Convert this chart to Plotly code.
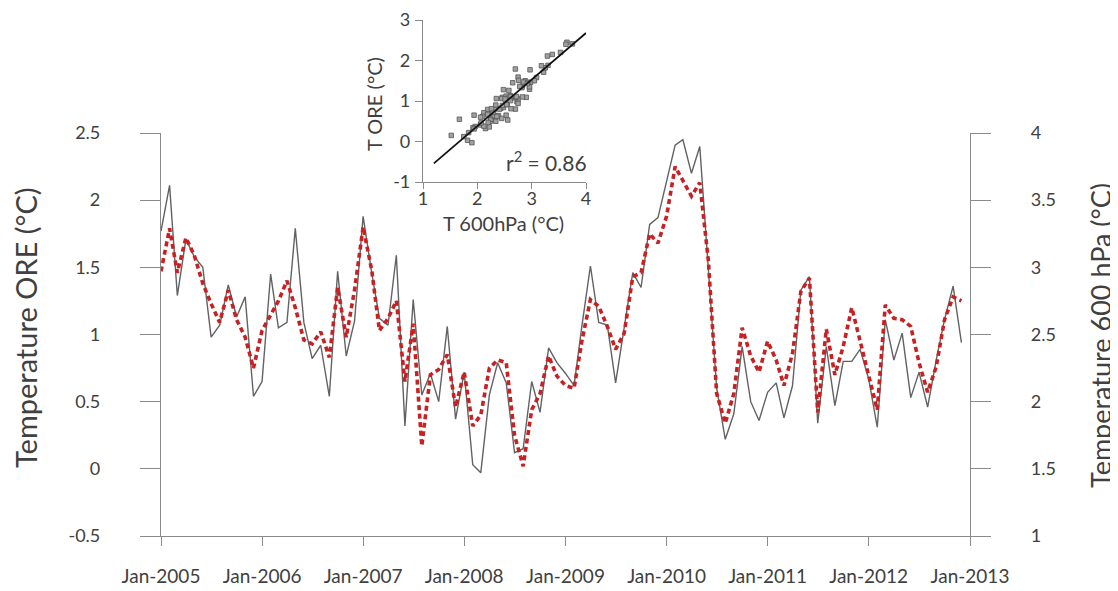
import pandas as pd
import plotly.graph_objects as go

# ---------------- data ----------------
months = pd.date_range("2005-01-01", "2012-12-01", freq="MS")

t_ore = [1.77, 2.11, 1.29, 1.71, 1.58, 1.50, 0.98, 1.07, 1.37, 1.13, 1.28, 0.54,
         0.65, 1.45, 1.05, 1.09, 1.79, 1.09, 0.82, 0.92, 0.54, 1.47, 0.84, 1.10,
         1.88, 1.46, 1.12, 1.07, 1.59, 0.32, 1.26, 0.55, 0.71, 0.50, 1.06, 0.37,
         0.72, 0.03, -0.03, 0.55, 0.79, 0.64, 0.12, 0.15, 0.65, 0.42, 0.90, 0.79,
         0.71, 0.62, 1.06, 1.51, 1.09, 1.07, 0.64, 1.05, 1.46, 1.35, 1.82, 1.87,
         2.15, 2.41, 2.45, 2.20, 2.40, 1.50, 0.60, 0.22, 0.41, 0.91, 0.50, 0.36,
         0.57, 0.64, 0.38, 0.62, 1.33, 1.43, 0.34, 0.91, 0.47, 0.80, 0.80, 0.89,
         0.67, 0.31, 1.11, 0.81, 1.01, 0.53, 0.72, 0.46, 0.81, 1.11, 1.36, 0.94]

t_600 = [2.97, 3.29, 2.96, 3.22, 3.09, 2.88, 2.73, 2.59, 2.83, 2.61, 2.48, 2.25,
         2.53, 2.65, 2.75, 2.90, 2.70, 2.46, 2.43, 2.52, 2.33, 2.85, 2.48, 2.83,
         3.30, 2.98, 2.53, 2.62, 2.75, 2.15, 2.58, 1.67, 2.20, 2.24, 2.35, 1.96,
         2.22, 1.82, 1.90, 2.25, 2.31, 2.29, 1.75, 1.52, 1.94, 2.06, 2.34, 2.19,
         2.12, 2.10, 2.45, 2.76, 2.71, 2.56, 2.39, 2.51, 2.93, 2.96, 3.25, 3.18,
         3.38, 3.75, 3.65, 3.53, 3.63, 3.05, 2.06, 1.84, 2.06, 2.55, 2.34, 2.22,
         2.45, 2.31, 2.12, 2.36, 2.82, 2.92, 1.92, 2.54, 2.20, 2.41, 2.70, 2.46,
         2.19, 1.94, 2.72, 2.62, 2.61, 2.56, 2.29, 2.07, 2.26, 2.61, 2.78, 2.75]

year_ticks = pd.date_range("2005-01-01", "2013-01-01", freq="YS")
left_ticks = [-0.5, 0, 0.5, 1, 1.5, 2, 2.5]
left_labels = ["-0.5", "0", "0.5", "1", "1.5", "2", "2.5"]
right_ticks = [1, 1.5, 2, 2.5, 3, 3.5, 4]
right_labels = ["1", "1.5", "2", "2.5", "3", "3.5", "4"]

inset_x_ticks = [1, 2, 3, 4]
inset_y_ticks = [-1, 0, 1, 2, 3]
inset_y_labels = ["-1", "0", "1", "2", "3"]
fit_x = [1.2, 4.0]
fit_slope = 1.15
fit_intercept = -1.92
r2_text = "r<sup>2</sup> = 0.86"

# ---------------- style ----------------
FONT = "Lato, 'Open Sans', sans-serif"
AX = "#8a8a8a"
TXT = "#404040"

fig = go.Figure()

fig.add_trace(go.Scatter(
    x=months, y=t_ore, mode="lines", name="T ORE",
    line=dict(color="#626262", width=1.4), xaxis="x", yaxis="y"))
fig.add_trace(go.Scatter(
    x=months, y=t_600, mode="lines", name="T 600 hPa",
    line=dict(color="#c62224", width=3.6, dash="5px,3.5px"), xaxis="x", yaxis="y3"))

# inset scatter
fig.add_trace(go.Scatter(
    x=t_600, y=t_ore, mode="markers",
    marker=dict(symbol="square", size=4.5, color="#a0a0a0",
                line=dict(color="#555555", width=0.8)),
    xaxis="x2", yaxis="y2"))
fig.add_trace(go.Scatter(
    x=fit_x, y=[fit_slope * v + fit_intercept for v in fit_x], mode="lines",
    line=dict(color="#111111", width=1.8), xaxis="x2", yaxis="y2"))

# page body has an 8px margin: size the figure so it ends at the window edge
OFF = 8
W, H = 1118 - OFF, 591 - OFF
PL, PR, PT, PB = 161, 970, 15, 536          # paper box in window pixels
L, R, T, B = PL - OFF, (W + OFF) - PR, PT - OFF, (H + OFF) - PB
pw, ph = PR - PL, PB - PT

def px_x(p):
    return (p - PL) / pw

def px_y(p):
    return (PB - p) / ph

main_top = px_y(133)

common = dict(showgrid=False, zeroline=False, showline=True, linecolor=AX,
              linewidth=1.2, ticks="outside", tickcolor=AX, tickwidth=1.2,
              automargin=False, ticklabeloverflow="allow")

fig.update_layout(
    width=W, height=H, autosize=False,
    margin=dict(l=L, r=R, t=T, b=B, pad=0),
    paper_bgcolor="white", plot_bgcolor="rgba(0,0,0,0)",
    showlegend=False,
    font=dict(family=FONT, color=TXT, size=15),
    xaxis=dict(
        domain=[0, 1], anchor="y", type="date",
        range=[year_ticks[0], year_ticks[-1]],
        tickvals=list(year_ticks), tickformat="%b-%Y",
        ticklen=9, tickfont=dict(size=19, color=TXT), ticklabelstandoff=14,
        **common),
    yaxis=dict(
        domain=[0, main_top], anchor="x",
        range=[-0.5, 2.5], tickvals=left_ticks, ticktext=left_labels,
        ticklen=20, tickfont=dict(size=18, color=TXT), ticklabelstandoff=36,
        **common),
    yaxis3=dict(
        domain=[0, main_top], anchor="x", overlaying="y", side="right",
        range=[1, 4], tickvals=right_ticks, ticktext=right_labels,
        ticklen=20, tickfont=dict(size=18, color=TXT), ticklabelstandoff=36,
        **common),
    xaxis2=dict(
        domain=[px_x(423), px_x(586)], anchor="y2",
        range=[1, 4], tickvals=inset_x_ticks,
        ticklen=6, tickfont=dict(size=18, color=TXT), ticklabelstandoff=-6,
        **common),
    yaxis2=dict(
        domain=[px_y(182), px_y(20)], anchor="x2",
        range=[-1, 3], tickvals=inset_y_ticks, ticktext=inset_y_labels,
        ticklen=7, tickfont=dict(size=18, color=TXT), ticklabelstandoff=1,
        **common),
    annotations=[
        dict(text="Temperature ORE (°C)", xref="paper", yref="paper",
             x=px_x(25), y=px_y(328), textangle=-90, showarrow=False,
             font=dict(size=29, color=TXT), xanchor="center", yanchor="middle"),
        dict(text="Temperature 600 hPa (°C)", xref="paper", yref="paper",
             x=px_x(1100), y=px_y(336), textangle=-90, showarrow=False,
             font=dict(size=27, color=TXT), xanchor="center", yanchor="middle"),
        dict(text="T ORE (°C)", xref="paper", yref="paper",
             x=px_x(374), y=px_y(104), textangle=-90, showarrow=False,
             font=dict(size=20, color=TXT), xanchor="center", yanchor="middle"),
        dict(text="T 600hPa (°C)", xref="paper", yref="paper",
             x=px_x(503), y=px_y(223), showarrow=False,
             font=dict(size=20, color=TXT), xanchor="center", yanchor="middle"),
        dict(text=r2_text, xref="paper", yref="paper",
             x=px_x(546), y=px_y(161), showarrow=False,
             font=dict(size=21, color=TXT), xanchor="center", yanchor="middle"),
    ],
)

fig.write_html("out.html")
